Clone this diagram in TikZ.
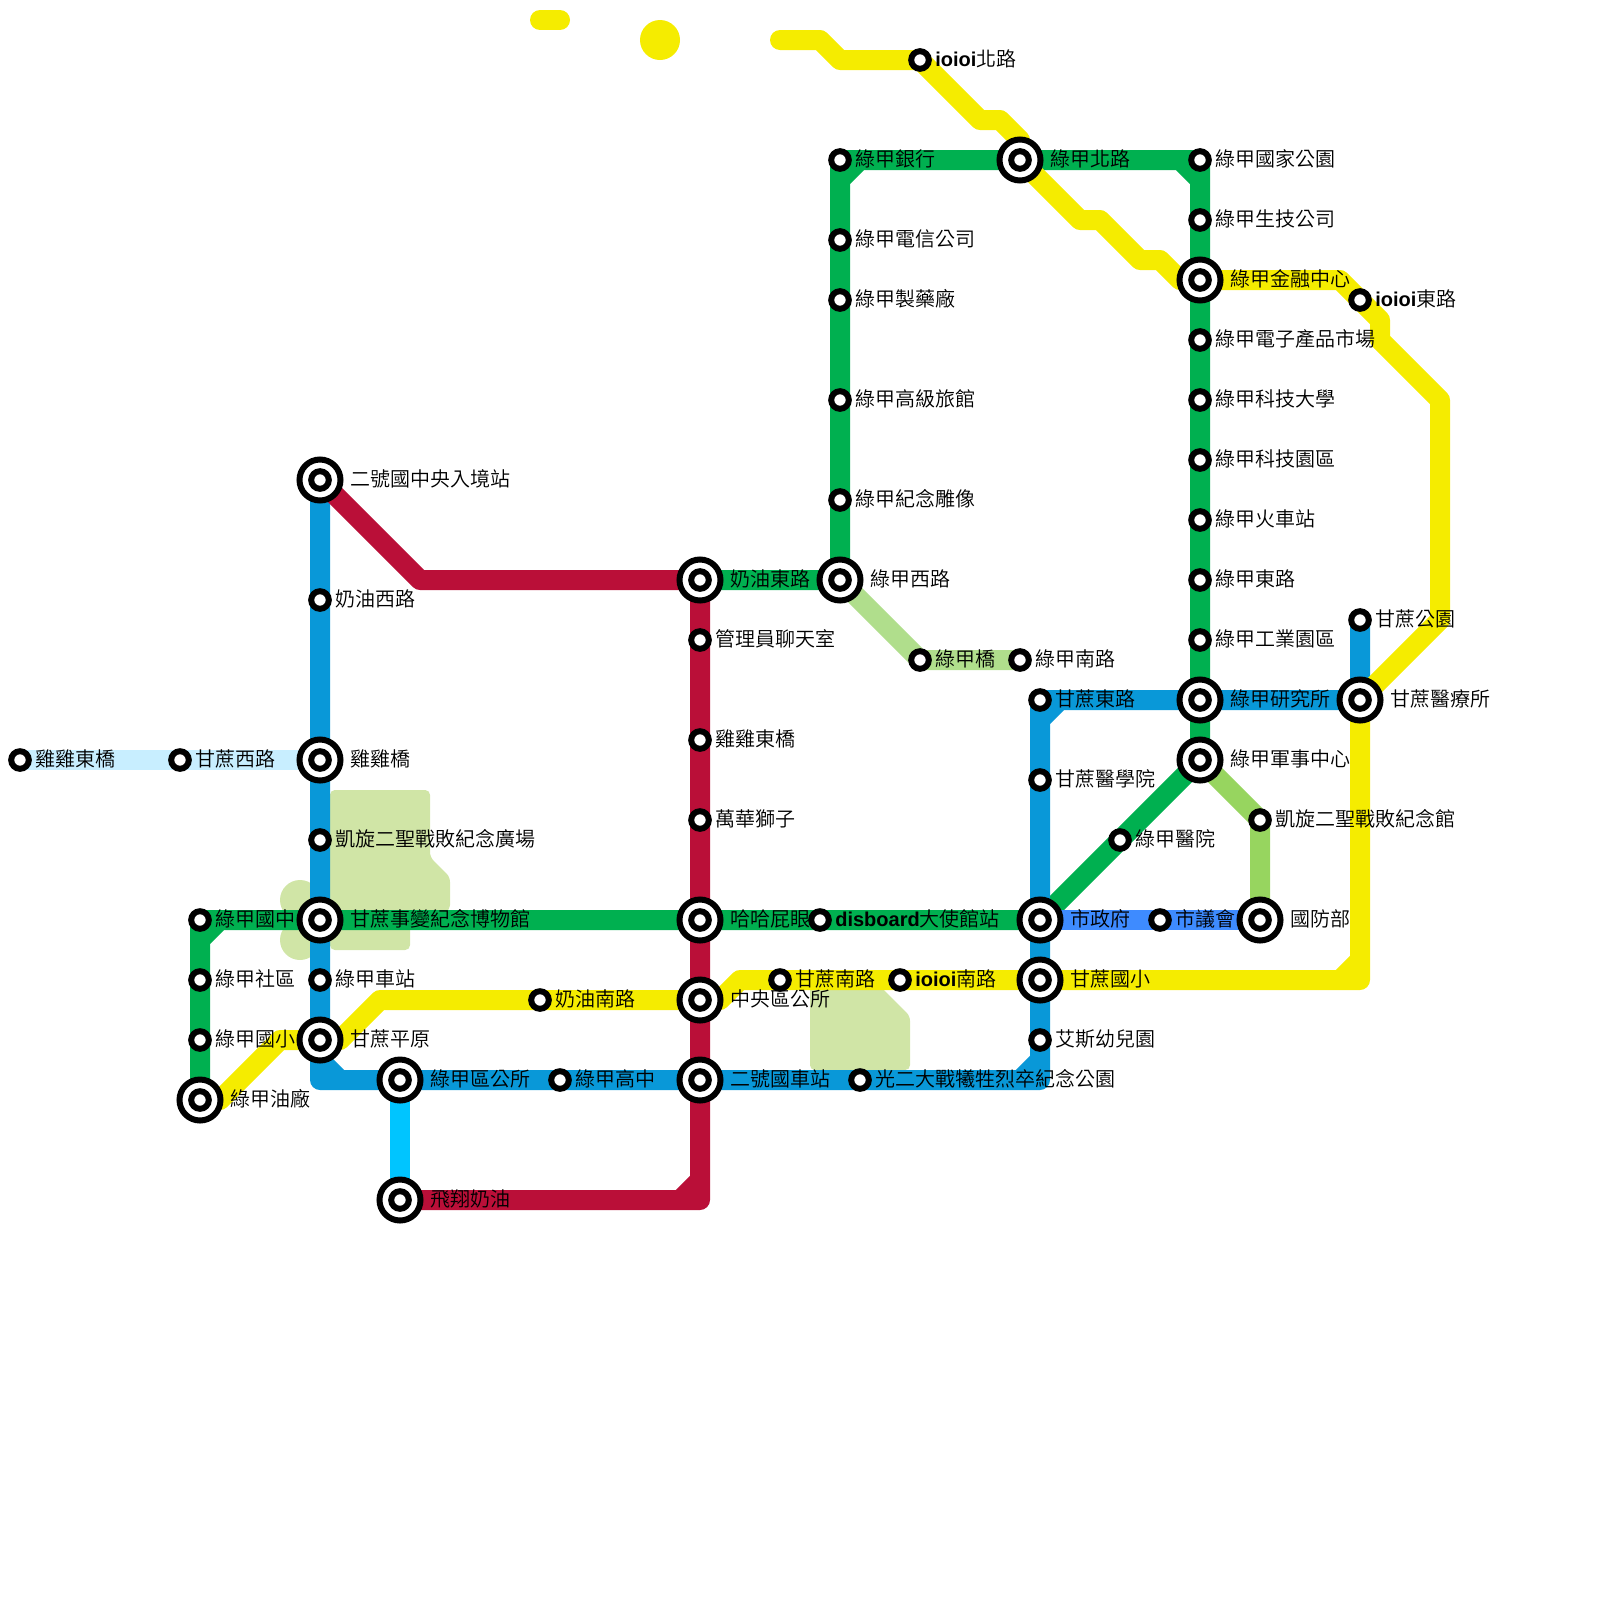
\documentclass[tikz,border=0pt]{standalone}
\usepackage{fontspec}
\usetikzlibrary{backgrounds}
\setmainfont{Noto Sans CJK TC}[UprightFont=* DemiLight]
\newfontfamily\latfont{Liberation Sans}
\newcommand{\lat}[1]{{\latfont\bfseries #1}}
\definecolor{grn}{HTML}{00B050}
\definecolor{blu}{HTML}{0998D8}
\definecolor{red}{HTML}{BA0F38}
\definecolor{yel}{HTML}{F5EC00}
\definecolor{cya}{HTML}{00C5FF}
\definecolor{sky}{HTML}{C8EEFF}
\definecolor{azu}{HTML}{3E8BFF}
\definecolor{lim}{HTML}{97D55F}
\definecolor{pal}{HTML}{B0DE8C}
\definecolor{park}{HTML}{D0E5A6}
\tikzset{
  route/.style={line width=.5cm,line join=round,line cap=round},
  stop/.style={circle,draw=black,fill=white,line width=.15cm,minimum size=.44cm,inner sep=0pt,outer sep=0pt},
  bigstop/.style={stop,minimum size=1.025cm,path picture={\draw[line width=.15cm] (path picture bounding box.center) circle (.22cm);}},
  lbl/.style={anchor=west,inner sep=0pt,text height=1.08em,text depth=.12em,font=\fontsize{14.23}{14.23}\selectfont},
  parkfill/.style={fill=park,rounded corners=.12cm}
}
\begin{document}
\begin{tikzpicture}[x=.5cm,y=-.5cm]
\useasboundingbox (0,0) rectangle (80,80);
\foreach \x/\y/\n/\t in {1/38/jeast/雞雞東橋,9/38/cwest/甘蔗西路,16/30/mwest/奶油西路,16/42/square/凱旋二聖戰敗紀念廣場,
  10/46/gjunior/綠甲國中,10/49/gcomm/綠甲社區,10/52/gprim/綠甲國小,16/49/gstn/綠甲車站,
  27/50/msouth/奶油南路,28/54/ghigh/綠甲高中,35/32/chat/管理員聊天室,35/37/jeastb/雞雞東橋,35/41/lion/萬華獅子,
  41/46/embassy/\lat{disboard}大使館站,39/49/csouth/甘蔗南路,45/49/isouth/\lat{ioioi}南路,43/54/memorial/光二大戰犧牲烈卒紀念公園,
  42/8/gbank/綠甲銀行,42/12/gtel/綠甲電信公司,42/15/gdrug/綠甲製藥廠,42/20/ghotel/綠甲高級旅館,42/25/gstatue/綠甲紀念雕像,
  46/3/inorth/\lat{ioioi}北路,46/33/gbridge/綠甲橋,51/33/gsouth/綠甲南路,52/35/ceast/甘蔗東路,52/39/cmed/甘蔗醫學院,52/52/kinder/艾斯幼兒園,
  56/42/ghosp/綠甲醫院,58/46/council/市議會,63/41/hall/凱旋二聖戰敗紀念館,68/15/ieast/\lat{ioioi}東路,68/31/cpark/甘蔗公園,
  60/8/gpark/綠甲國家公園,60/11/gbio/綠甲生技公司,60/17/gelec/綠甲電子產品市場,60/20/guni/綠甲科技大學,60/23/gsci/綠甲科技園區,
  60/26/gtrain/綠甲火車站,60/29/geast/綠甲東路,60/32/gind/綠甲工業園區}{
  \node[stop] (\n) at (\x,\y) {};
  \node[lbl] (\n-t) at (\x+.75,\y) {\t};
}
\foreach \x/\y/\n/\t in {16/24/entry/二號國中央入境站,16/38/jbridge/雞雞橋,16/46/museum/甘蔗事變紀念博物館,16/52/cplain/甘蔗平原,
  10/55/goil/綠甲油廠,20/54/goffice/綠甲區公所,20/60/fly/飛翔奶油,35/29/meast/奶油東路,42/29/gwest/綠甲西路,
  35/46/haha/哈哈屁眼,35/50/central/中央區公所,35/54/station/二號國車站,51/8/gnorth/綠甲北路,60/14/gfin/綠甲金融中心,
  60/35/glab/綠甲研究所,60/38/gmil/綠甲軍事中心,68/35/cclinic/甘蔗醫療所,52/46/city/市政府,52/49/cprim/甘蔗國小,63/46/defense/國防部}{
  \node[bigstop] (\n) at (\x,\y) {};
  \node[lbl] (\n-t) at (\x+1.5,\y) {\t};
}
\begin{scope}[on background layer]
% parks
\fill[parkfill] (16.5,39.5) -- (21.5,39.5) -- (21.5,42.85) -- (22.5,43.85) -- (22.5,45.5) -- (21.5,46) -- (16.5,46) -- cycle;
\fill[parkfill] (16.5,45) -- (20.5,45) -- (20.5,47.5) -- (16.5,47.5) -- cycle;
\fill[park] (15,45) circle (1) (15,47) circle (1);
\fill[parkfill] (40.5,49) -- (43.7,49) -- (45.5,50.8) -- (45.5,53.5) -- (40.5,53.5) -- cycle;
% lines
\draw[route,grn] (meast.center) -- (gwest.center) -- (gstatue.center) -- (ghotel.center) -- (gdrug.center) -- (gtel.center) -- (gbank.center) -- (gnorth.center) -- (gpark.center) -- (gbio.center) -- (gfin.center) -- (gelec.center) -- (guni.center) -- (gsci.center) -- (gtrain.center) -- (geast.center) -- (gind.center) -- (glab.center) -- (gmil.center) (42,9) -- (43,8) (59,8) -- (60,9);
\draw[route,grn] (goil.center) -- (gprim.center) -- (gcomm.center) -- (gjunior.center) -- (museum.center) -- (haha.center) -- (embassy.center) -- (city.center) -- (ghosp.center) -- (gmil.center) (10,47) -- (11,46);
\draw[route,lim] (gmil.center) -- (hall.center) -- (defense.center);
\draw[route,pal] (gwest.center) -- (gbridge.center) -- (gsouth.center);
\draw[route,sky] (jeast.center) -- (cwest.center) -- (jbridge.center);
\draw[route,cya] (goffice.center) -- (fly.center);
\draw[route,azu] (city.center) -- (council.center) -- (defense.center);
\draw[route,blu] (entry.center) -- (mwest.center) -- (jbridge.center) -- (square.center) -- (museum.center) -- (gstn.center) -- (cplain.center) -- (16,54) -- (goffice.center) -- (ghigh.center) -- (station.center) -- (memorial.center) -- (52,54) -- (kinder.center) -- (cprim.center) -- (city.center) -- (cmed.center) -- (ceast.center) -- (glab.center) -- (cclinic.center) -- (cpark.center) (16,53) -- (17,54) (51,54) -- (52,53) (52,36) -- (53,35);
\draw[route,red] (entry.center) -- (21,29) -- (meast.center) -- (chat.center) -- (jeastb.center) -- (lion.center) -- (haha.center) -- (central.center) -- (station.center) -- (35,60) -- (fly.center) (34,60) -- (35,59);
\draw[route,yel] (goil.center) -- (11,55) -- (14,52) -- (cplain.center) -- (17,52) -- (19,50) -- (msouth.center) -- (central.center) -- (36,50) -- (37,49) -- (csouth.center) -- (isouth.center) -- (cprim.center) -- (68,49) -- (cclinic.center) -- (72,31) -- (72,20) -- (69,17) -- (69,16) -- (ieast.center) -- (67,14) -- (gfin.center) -- (59,14) -- (58,13) -- (57,13) -- (55,11) -- (54,11) -- (gnorth.center) -- (51,7) -- (50,6) -- (49,6) -- (inorth.center) -- (42,3) -- (41,2) -- (39,2) (67,49) -- (68,48);
\draw[route,yel] (27,1) -- (28,1);
\fill[yel] (33,2) circle (1);
\end{scope}
\end{tikzpicture}
\end{document}
